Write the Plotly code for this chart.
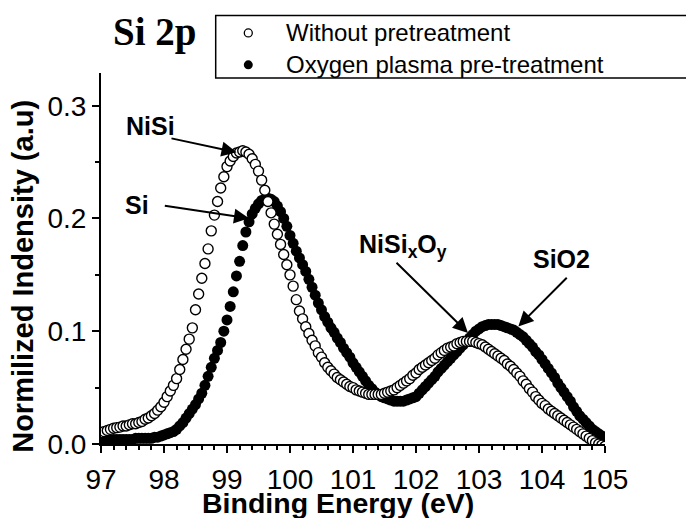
import numpy as np
import plotly.graph_objects as go

# Binding energy grid (eV), 0.05 eV step
energy = np.round(np.linspace(97.0, 105.0, 161), 2)

# Si 2p normalized intensity, sample without pretreatment
without_pre = [
    0.010, 0.011, 0.012, 0.013, 0.014, 0.0145, 0.015, 0.016, 0.016, 0.017,
    0.018, 0.018, 0.019, 0.020, 0.022, 0.023, 0.025, 0.027, 0.030, 0.033,
    0.037, 0.042, 0.047, 0.052, 0.058, 0.066, 0.075, 0.084, 0.093, 0.103,
    0.119, 0.133, 0.147, 0.160, 0.173, 0.189, 0.203, 0.215, 0.227, 0.237,
    0.246, 0.251, 0.255, 0.258, 0.259, 0.260, 0.259, 0.257, 0.253, 0.248,
    0.242, 0.234, 0.225, 0.215, 0.205, 0.195, 0.186, 0.177, 0.168, 0.159,
    0.150, 0.140, 0.128, 0.118, 0.111, 0.104, 0.098, 0.092, 0.087, 0.081,
    0.077, 0.072, 0.068, 0.065, 0.062, 0.059, 0.057, 0.055, 0.053, 0.051,
    0.050, 0.048, 0.047, 0.046, 0.045, 0.044, 0.044, 0.044, 0.044, 0.044,
    0.045, 0.046, 0.047, 0.048, 0.050, 0.052, 0.054, 0.056, 0.058, 0.061,
    0.063, 0.066, 0.068, 0.070, 0.072, 0.074, 0.076, 0.079, 0.081, 0.083,
    0.085, 0.086, 0.087, 0.089, 0.090, 0.091, 0.091, 0.091, 0.091, 0.090,
    0.089, 0.088, 0.086, 0.084, 0.082, 0.080, 0.078, 0.076, 0.074, 0.071,
    0.069, 0.066, 0.063, 0.060, 0.056, 0.053, 0.049, 0.046, 0.042, 0.039,
    0.036, 0.034, 0.031, 0.029, 0.027, 0.025, 0.023, 0.021, 0.019, 0.017,
    0.015, 0.013, 0.011, 0.009, 0.007, 0.005, 0.003, 0.001, 0.000, -0.001,
    -0.002,
]

# Si 2p normalized intensity, sample with oxygen plasma pre-treatment
oxygen_plasma = [
    0.003, 0.003, 0.003, 0.003, 0.004, 0.004, 0.004, 0.004, 0.004, 0.004,
    0.004, 0.005, 0.005, 0.005, 0.005, 0.005, 0.005, 0.006, 0.006, 0.007,
    0.008, 0.009, 0.010, 0.011, 0.013, 0.016, 0.019, 0.023, 0.027, 0.031,
    0.035, 0.040, 0.045, 0.052, 0.060, 0.068, 0.076, 0.083, 0.090, 0.100,
    0.110, 0.122, 0.135, 0.149, 0.162, 0.176, 0.188, 0.197, 0.204, 0.209,
    0.213, 0.216, 0.217, 0.218, 0.217, 0.215, 0.211, 0.206, 0.200, 0.193,
    0.185, 0.178, 0.171, 0.165, 0.159, 0.153, 0.146, 0.139, 0.132, 0.125,
    0.119, 0.113, 0.108, 0.103, 0.099, 0.094, 0.090, 0.085, 0.081, 0.077,
    0.072, 0.068, 0.064, 0.060, 0.056, 0.052, 0.049, 0.046, 0.044, 0.042,
    0.041, 0.040, 0.039, 0.038, 0.038, 0.038, 0.038, 0.039, 0.040, 0.041,
    0.042, 0.045, 0.048, 0.051, 0.054, 0.057, 0.060, 0.064, 0.067, 0.070,
    0.073, 0.076, 0.079, 0.082, 0.085, 0.088, 0.091, 0.094, 0.097, 0.100,
    0.102, 0.104, 0.105, 0.106, 0.106, 0.106, 0.106, 0.105, 0.104, 0.103,
    0.102, 0.101, 0.099, 0.097, 0.095, 0.092, 0.089, 0.086, 0.082, 0.079,
    0.075, 0.071, 0.067, 0.063, 0.059, 0.054, 0.050, 0.046, 0.042, 0.038,
    0.033, 0.029, 0.025, 0.022, 0.019, 0.016, 0.013, 0.011, 0.009, 0.007,
    0.005,
]

series_names = ["Without pretreatment", "Oxygen plasma pre-treatment"]
x_ticks = [97, 98, 99, 100, 101, 102, 103, 104, 105]
y_ticks = [0.0, 0.1, 0.2, 0.3]
y_tick_text = ["0.0", "0.1", "0.2", "0.3"]

SANS = "Liberation Sans, Arial, sans-serif"
SERIF = "Liberation Serif, Times New Roman, serif"

fig = go.Figure()

fig.add_trace(go.Scatter(
    x=energy, y=oxygen_plasma, mode="markers", name=series_names[1],
    marker=dict(symbol="circle", size=11, color="black", line=dict(width=0)),
    showlegend=False,
))
fig.add_trace(go.Scatter(
    x=energy, y=without_pre, mode="markers", name=series_names[0],
    marker=dict(symbol="circle", size=10, color="white",
                line=dict(width=1.4, color="black")),
    showlegend=False,
))

axis_common = dict(
    showline=True, linecolor="black", linewidth=2, mirror=False,
    ticks="outside", ticklen=7, tickwidth=2, tickcolor="black",
    showgrid=False, zeroline=False,
    tickfont=dict(family=SANS, size=28, color="black"),
)

fig.update_xaxes(
    range=[97, 105], tickvals=x_ticks, ticklabelstandoff=2,
    minor=dict(dtick=0.2, ticks="outside", ticklen=4, tickwidth=1.5,
               tickcolor="black", showgrid=False),
    **axis_common,
)
fig.update_yaxes(
    range=[0, 0.329], tickvals=y_ticks, ticktext=y_tick_text,
    minor=dict(dtick=0.05, ticks="outside", ticklen=4, tickwidth=1.5,
               tickcolor="black", showgrid=False),
    **axis_common,
)

annotations = []

# Axis titles
annotations.append(dict(
    text="<b>Binding Energy (eV)</b>", xref="paper", yref="paper",
    x=0.471, y=-0.158, xanchor="center", yanchor="middle", showarrow=False,
    font=dict(family=SANS, size=28.5, color="black"),
))
annotations.append(dict(
    text="<b>Normilized Indensity (a.u)</b>", xref="paper", yref="paper",
    x=-0.155, y=0.453, xanchor="center", yanchor="middle", showarrow=False,
    textangle=-90, font=dict(family=SANS, size=29, color="black"),
))

# Panel title
annotations.append(dict(
    text="<b>Si 2p</b>", xref="paper", yref="paper",
    x=0.106, y=1.11, xanchor="center", yanchor="middle", showarrow=False,
    font=dict(family=SERIF, size=39, color="black"),
))

# Peak labels
label_font = dict(family=SANS, size=25, color="black")
annotations += [
    dict(text="<b>NiSi</b>", x=97.778, y=0.2824, xanchor="center",
         yanchor="middle", showarrow=False, font=label_font),
    dict(text="<b>Si</b>", x=97.579, y=0.2123, xanchor="center",
         yanchor="middle", showarrow=False, font=label_font),
    dict(text="<b>NiSi<sub>x</sub>O<sub>y</sub></b>", x=101.063, y=0.176,
         xanchor="left", yanchor="middle", showarrow=False, font=label_font),
    dict(text="<b>SiO2</b>", x=104.313, y=0.1644, xanchor="center",
         yanchor="middle", showarrow=False, font=label_font),
]

# Arrows pointing at the peaks (tail -> head, axis coordinates)
arrows = [
    ((98.095, 0.2713), (99.151, 0.2587)),
    ((97.989, 0.2114), (99.349, 0.2001)),
    ((101.667, 0.1620), (102.825, 0.0985)),
    ((104.417, 0.1487), (103.624, 0.1043)),
]
for (tx, ty), (hx, hy) in arrows:
    annotations.append(dict(
        text="", x=hx, y=hy, ax=tx, ay=ty, xref="x", yref="y",
        axref="x", ayref="y", showarrow=True, arrowhead=2, arrowsize=1.5,
        arrowwidth=2, arrowcolor="black", standoff=0,
    ))

# Legend entries (box drawn as a shape, extends past the right edge)
leg_text_x = (284 - 101) / 504
leg_rows = [1.108, 1.022]
for name, yrow in zip(series_names, leg_rows):
    annotations.append(dict(
        text=name, xref="paper", yref="paper", x=leg_text_x, y=yrow,
        xanchor="left", yanchor="middle", showarrow=False,
        font=dict(family=SANS, size=24, color="black"),
    ))

mx = (248.3 - 101) / 504
shapes = [
    dict(type="rect", xref="paper", yref="paper",
         x0=(215.7 - 101) / 504, x1=1.25, y0=0.9865, y1=1.1553,
         line=dict(color="black", width=1.5), fillcolor="rgba(0,0,0,0)"),
    dict(type="circle", xref="paper", yref="paper",
         xsizemode="pixel", ysizemode="pixel", xanchor=mx, yanchor=leg_rows[0],
         x0=-4, x1=4, y0=-4, y1=4,
         line=dict(color="black", width=1.3), fillcolor="white"),
    dict(type="circle", xref="paper", yref="paper",
         xsizemode="pixel", ysizemode="pixel", xanchor=mx, yanchor=leg_rows[1],
         x0=-4.5, x1=4.5, y0=-4.5, y1=4.5,
         line=dict(color="black", width=0), fillcolor="black"),
]

fig.update_layout(
    width=686, height=518,
    margin=dict(l=101, r=81, t=73, b=74, pad=0),
    paper_bgcolor="white", plot_bgcolor="white",
    annotations=annotations, shapes=shapes,
    showlegend=False,
)

fig.write_html("out.html")
